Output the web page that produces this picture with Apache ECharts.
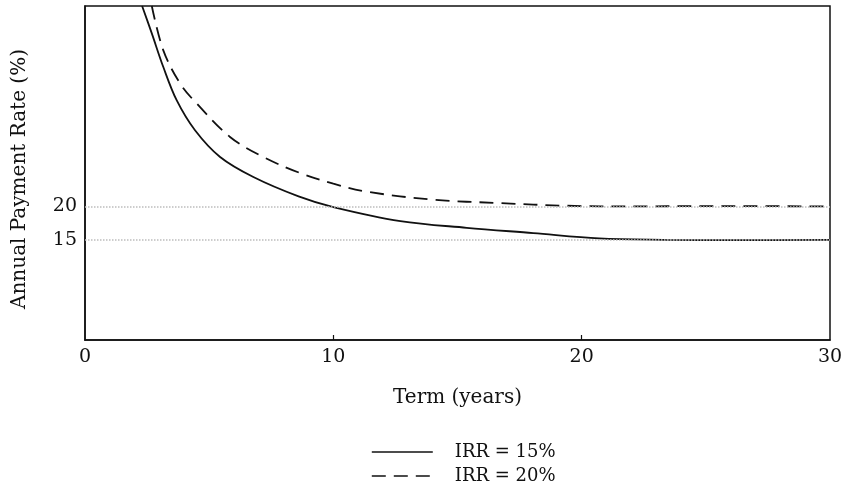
<!DOCTYPE html>
<html>
<head>
    <meta charset="utf-8"/>
    <style type="text/css">
        body, html { margin: 0; width: 100%; height: 100%; background: #fff; }
        #chart { width: 847px; height: 492px; }
    </style>
    <script src="https://cdn.jsdelivr.net/npm/echarts@6/dist/echarts.min.js"></script>
</head>
<body>
<div id="chart"></div>
<script type="text/javascript">
    // term (years) and annual payment rate (%)
    var term15 = [2.3, 2.69, 3.15, 3.69, 4.43, 5.44, 6.78, 8.6, 10.0, 12.7, 15.37, 18.05, 20.7, 23.4, 26.0, 30.0];
    var rate15 = [50, 45.9, 40.9, 35.9, 31.4, 27.4, 24.4, 21.5, 19.9, 17.8, 16.8, 16.0, 15.2, 15.0, 14.95, 15.0];
    var term20 = [2.69, 3.15, 3.83, 4.5, 5.84, 7.18, 8.66, 10.0, 11.35, 14.03, 16.7, 19.4, 22.1, 24.8, 30.0];
    var rate20 = [50, 43.4, 38.4, 35.4, 30.4, 27.4, 25.0, 23.4, 22.2, 21.0, 20.5, 20.1, 20.0, 20.05, 20.0];
    var seriesNames = ['IRR = 15%', 'IRR = 20%'];
    var yTickLabels = [15, 20];
    var xTickMarks = [10, 20];

    function pairs(xs, ys) {
        var out = [];
        for (var i = 0; i < xs.length; i++) out.push([xs[i], ys[i]]);
        return out;
    }

    var font = 'DejaVu Serif';
    var ink = '#111';

    var myChart = echarts.init(document.getElementById('chart'));
    var option = {
        animation: false,
        color: [ink, ink],
        grid: {
            left: 85, right: 17, top: 6, bottom: 152,
            show: true, borderColor: ink, borderWidth: 1.5
        },
        legend: {
            orient: 'vertical',
            left: 371,
            top: 443,
            padding: 0,
            itemWidth: 61,
            itemHeight: 14,
            itemGap: 6,
            itemStyle: {opacity: 0},
            textStyle: {fontFamily: font, fontSize: 18, color: ink, padding: [0, 0, 0, 17]},
            data: [
                {name: seriesNames[0], lineStyle: {color: ink, width: 1.6, type: 'solid'}},
                {name: seriesNames[1], lineStyle: {color: ink, width: 1.6, type: [14, 8]}}
            ]
        },
        xAxis: {
            type: 'value',
            min: 0, max: 30, interval: 10,
            name: 'Term (years)',
            nameLocation: 'middle',
            nameGap: 48,
            nameTextStyle: {fontFamily: font, fontSize: 20, color: ink},
            axisLine: {lineStyle: {color: ink, width: 1.5}},
            axisTick: {inside: true, length: 5, customValues: xTickMarks, lineStyle: {color: ink, width: 1.2}},
            axisLabel: {fontFamily: font, fontSize: 19, color: ink, margin: 8},
            splitLine: {show: false}
        },
        yAxis: {
            type: 'value',
            min: 0, max: 50, interval: 5,
            name: 'Annual Payment Rate (%)',
            nameLocation: 'middle',
            nameGap: 55,
            nameTextStyle: {fontFamily: font, fontSize: 20, color: ink, padding: [0, 12, 0, 0]},
            axisLine: {lineStyle: {color: ink, width: 1.5}},
            axisTick: {show: false},
            axisLabel: {fontFamily: font, fontSize: 19, color: ink, margin: 8, customValues: yTickLabels},
            splitLine: {show: false}
        },
        series: [
            {
                name: seriesNames[0],
                type: 'line',
                smooth: 0.35,
                symbol: 'none',
                lineStyle: {color: ink, width: 1.8},
                data: pairs(term15, rate15),
                markLine: {
                    silent: true,
                    symbol: 'none',
                    label: {show: false},
                    lineStyle: {color: '#bdbdbd', width: 1.5, type: 'dotted'},
                    data: yTickLabels.map(function (v) { return {yAxis: v}; })
                },
                z: 3
            },
            {
                name: seriesNames[1],
                type: 'line',
                smooth: 0.35,
                symbol: 'none',
                lineStyle: {color: ink, width: 1.8, type: [14, 8]},
                data: pairs(term20, rate20),
                z: 3
            }
        ]
    };
    myChart.setOption(option);
</script>
</body>
</html>
